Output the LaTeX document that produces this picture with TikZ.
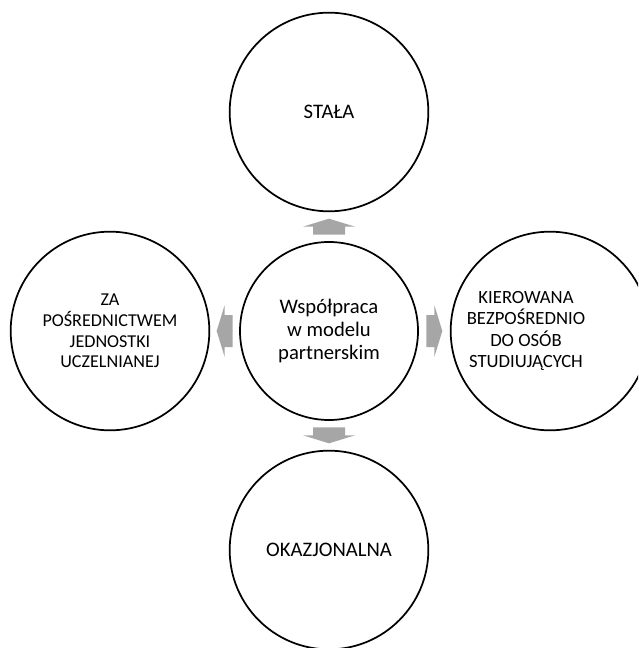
\documentclass[tikz,border=0pt]{standalone}
\usepackage{fontspec}
\setmainfont{Carlito}
\usetikzlibrary{calc}
\definecolor{arrowgray}{HTML}{A6A6A6}
\begin{document}
\begin{tikzpicture}[x=0.75pt,y=-0.75pt,
  ring/.style={circle, draw=black, line width=1.3pt, inner sep=0pt},
  hub/.style={ring, minimum size=133.5pt},
  outer/.style={ring, minimum size=149pt},
  txt/.style={align=center, inner sep=0pt},
  bigtxt/.style={font=\fontsize{15.5}{17.25}\selectfont},
  lefttxt/.style={font=\fontsize{13.6}{15.5}\selectfont},
  righttxt/.style={font=\fontsize{14}{16}\selectfont},
  blockarrow/.pic={\fill[arrowgray] (-8,-16) -- (0,-16) -- (0,-26) -- (8,0) -- (0,26) -- (0,16) -- (-8,16) -- cycle;}
]
\clip (0,0) rectangle (638,648);
\useasboundingbox (0,0) rectangle (638,648);

\node[hub, txt, bigtxt] (C) at (329,331) {Współpraca\\w modelu\\partnerskim};
\node[outer, txt, bigtxt] (T) at (329,112) {STAŁA};
\node[outer, txt, bigtxt] (B) at (329,550) {OKAZJONALNA};
\node[outer, txt, lefttxt] (L) at (110,331) {ZA\\POŚREDNICTWEM\\JEDNOSTKI\\UCZELNIANEJ};
\node[outer] (R) at (550,331) {};
\node[txt, righttxt] (Rt) at (526,331) {KIEROWANA\\BEZPOŚREDNIO\\DO OSÓB\\STUDIUJĄCYCH};

\path (C.north) -- (T.south) coordinate[pos=0.5] (mu);
\path (C.south) -- (B.north) coordinate[pos=0.5] (md);
\path (C.west) -- (L.east) coordinate[pos=0.5] (ml);
\path (C.east) -- (R.west) coordinate[pos=0.5] (mr);

\pic[rotate=90] at (mu) {blockarrow};
\pic[rotate=-90] at (md) {blockarrow};
\pic[rotate=180] at (ml) {blockarrow};
\pic at (mr) {blockarrow};
\end{tikzpicture}
\end{document}
